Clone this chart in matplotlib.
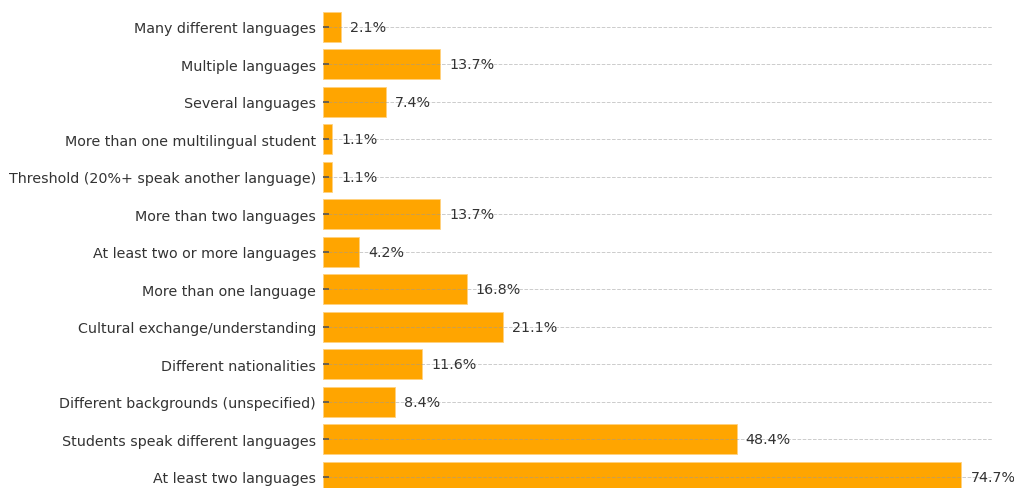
import matplotlib
matplotlib.use("Agg")
import matplotlib.pyplot as plt

categories = [
    "Many different languages",
    "Multiple languages",
    "Several languages",
    "More than one multilingual student",
    "Threshold (20%+ speak another language)",
    "More than two languages",
    "At least two or more languages",
    "More than one language",
    "Cultural exchange/understanding",
    "Different nationalities",
    "Different backgrounds (unspecified)",
    "Students speak different languages",
    "At least two languages",
]
percentages = [2.1, 13.7, 7.4, 1.1, 1.1, 13.7, 4.2, 16.8, 21.1, 11.6, 8.4, 48.4, 74.7]

fig = plt.figure(figsize=(10.14, 4.89), dpi=100)
ax = fig.add_axes([0.3185, -0.0235, 0.6598, 1.0123])

positions = list(range(len(categories)))
ax.barh(positions, percentages, height=0.8, color="#FFA500",
        edgecolor="#FFD27F", linewidth=0.6, zorder=1)

for pos, value in zip(positions, percentages):
    ax.annotate(f"{value}%", xy=(value, pos), xytext=(6.5, 0),
                textcoords="offset points", va="center", ha="left",
                fontsize=10.3, color="#333333")

ax.set_yticks(positions)
ax.set_yticklabels(categories, fontsize=10.3, color="#333333")
ax.set_ylim(len(categories) - 0.4, -0.6)
ax.set_xlim(0, max(percentages) * 1.048)

# dashed guides sit on top of the bars, like the tick marks
ax.set_axisbelow("line")
ax.grid(axis="y", linestyle="--", color="#999999", alpha=0.5, linewidth=0.7)
ax.tick_params(axis="y", direction="in", length=4.5, width=1.2, color="#555555", pad=5)
ax.tick_params(axis="x", bottom=False, labelbottom=False)
for spine in ax.spines.values():
    spine.set_visible(False)

fig.savefig("out.png", dpi=100)
